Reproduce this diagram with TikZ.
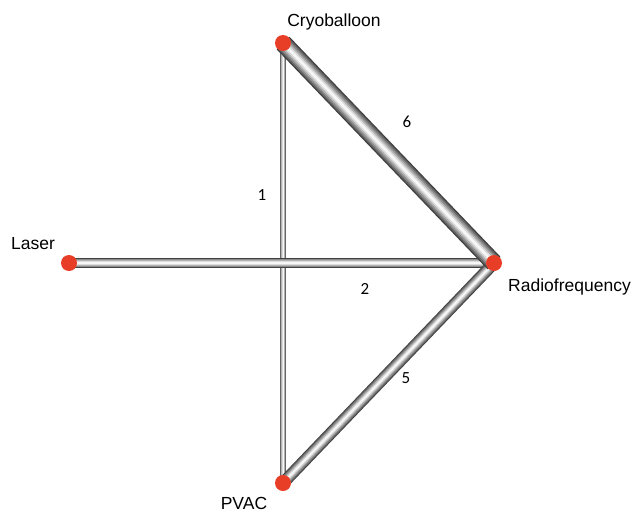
\documentclass[tikz,border=0pt]{standalone}
\usepackage{fontspec}
\setmainfont{Liberation Sans}
\newfontfamily\numfont{Carlito}
\definecolor{dotred}{RGB}{232,62,40}
\newcommand\tube[3]{%
  \draw[line width=#3pt, black!75] (#1) -- (#2);
  \draw[line width=0.85*#3pt, black!60] (#1) -- (#2);
  \draw[line width=0.68*#3pt, black!45] (#1) -- (#2);
  \draw[line width=0.5*#3pt, black!30] (#1) -- (#2);
  \draw[line width=0.32*#3pt, black!14] (#1) -- (#2);
  \draw[line width=0.14*#3pt, black!3] (#1) -- (#2);
}
\begin{document}
\begin{tikzpicture}[x=1pt,y=-1pt,
  dot/.style={circle, fill=dotred, inner sep=0pt, minimum size=16pt},
  lab/.style={font=\fontsize{17.5}{19}\selectfont, inner sep=0pt},
  num/.style={font=\numfont\fontsize{17}{19}\selectfont, inner sep=0pt}]
\useasboundingbox (0,0) rectangle (641,512);
\coordinate (C) at (283,43);
\coordinate (L) at (69,263);
\coordinate (R) at (494,263);
\coordinate (P) at (283,483);
\tube{C}{P}{6.5}
\tube{L}{R}{10.5}
\tube{P}{R}{12}
\tube{C}{R}{18}
\node[dot] (c) at (C) {};
\node[dot] (l) at (L) {};
\node[dot] (r) at (R) {};
\node[dot] (p) at (P) {};
\node[lab] (tc) at (334,22) {Cryoballoon};
\node[lab] (tl) at (33,244) {Laser};
\node[lab, anchor=west] (tr) at (508,287) {Radiofrequency};
\node[lab] (tp) at (244,503) {PVAC};
\node[num] (n6) at (407,122) {6};
\node[num] (n1) at (262,195) {1};
\node[num] (n2) at (365,289) {2};
\node[num] (n5) at (406,378) {5};
\end{tikzpicture}
\end{document}
